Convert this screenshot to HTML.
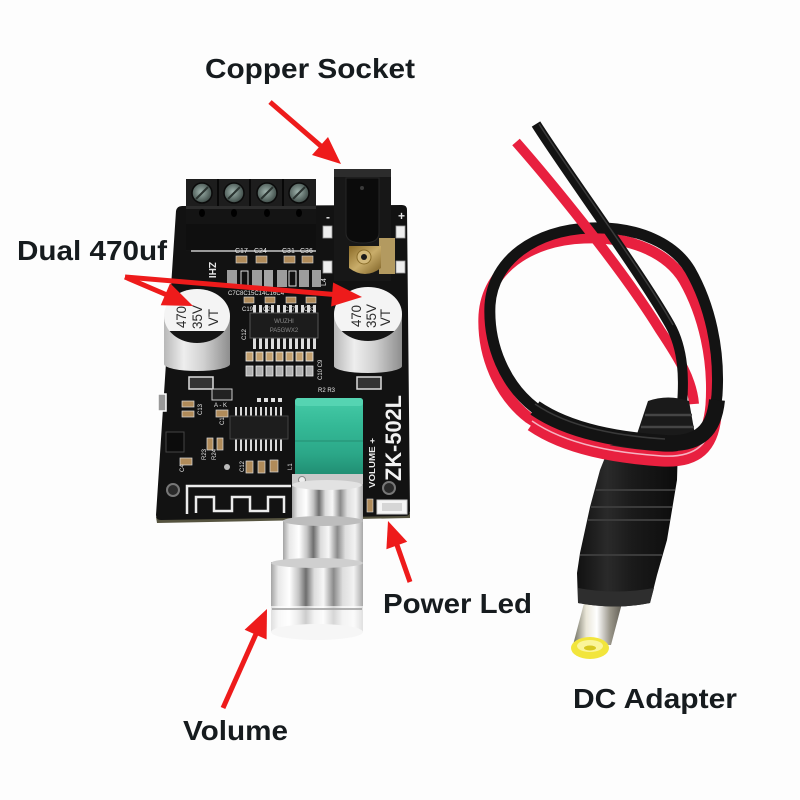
<!DOCTYPE html>
<html><head><meta charset="utf-8">
<style>
html,body{margin:0;padding:0;background:#fff;}
svg{display:block;}
.lbl{font-family:"Liberation Sans",Arial,sans-serif;font-weight:bold;font-size:28px;fill:#161b1e;}
.s{font-family:"Liberation Sans",sans-serif;fill:#e6e6e6;}
.cap{font-family:"Liberation Sans",sans-serif;fill:#2a2a2a;font-size:14px;}
</style></head><body>
<svg width="800" height="800" viewBox="0 0 800 800" xmlns="http://www.w3.org/2000/svg">
<defs>
 <linearGradient id="knob" x1="0" y1="0" x2="1" y2="0">
  <stop offset="0" stop-color="#a4a4a4"/><stop offset="0.08" stop-color="#e8e8e8"/>
  <stop offset="0.2" stop-color="#ffffff"/><stop offset="0.3" stop-color="#c4c4c4"/>
  <stop offset="0.38" stop-color="#6e6e6e"/><stop offset="0.47" stop-color="#dcdcdc"/>
  <stop offset="0.57" stop-color="#f7f7f7"/><stop offset="0.68" stop-color="#8a8a8a"/>
  <stop offset="0.78" stop-color="#dedede"/><stop offset="0.9" stop-color="#f2f2f2"/>
  <stop offset="1" stop-color="#a8a8a8"/>
 </linearGradient>
 <linearGradient id="capSide" x1="0" y1="0" x2="1" y2="0">
  <stop offset="0" stop-color="#b8b8b8"/><stop offset="0.3" stop-color="#eeeeee"/>
  <stop offset="0.6" stop-color="#d0d0d0"/><stop offset="1" stop-color="#8e8e8e"/>
 </linearGradient>
 <linearGradient id="green" x1="0" y1="0" x2="0" y2="1">
  <stop offset="0" stop-color="#46cba8"/><stop offset="0.35" stop-color="#34b996"/>
  <stop offset="0.7" stop-color="#2ba788"/><stop offset="1" stop-color="#1f8a6f"/>
 </linearGradient>
 <linearGradient id="barrel" x1="0" y1="0" x2="1" y2="0">
  <stop offset="0" stop-color="#6b6b5e"/><stop offset="0.25" stop-color="#e9e6d8"/>
  <stop offset="0.45" stop-color="#ffffff"/><stop offset="0.7" stop-color="#9a968a"/>
  <stop offset="1" stop-color="#4e4b42"/>
 </linearGradient>
 <linearGradient id="plug" x1="0" y1="0" x2="1" y2="0">
  <stop offset="0" stop-color="#111"/><stop offset="0.3" stop-color="#2a2a2a"/>
  <stop offset="0.55" stop-color="#1a1a1a"/><stop offset="1" stop-color="#0c0c0c"/>
 </linearGradient>
 <radialGradient id="screw" cx="0.45" cy="0.45" r="0.6">
  <stop offset="0" stop-color="#9fb3ad"/><stop offset="1" stop-color="#36433f"/>
 </radialGradient>
 <linearGradient id="brass" x1="0" y1="0" x2="1" y2="1">
  <stop offset="0" stop-color="#8a6a26"/><stop offset="0.5" stop-color="#c9ad6a"/><stop offset="1" stop-color="#7d6126"/>
 </linearGradient>
 <clipPath id="cL"><ellipse cx="197" cy="316" rx="33" ry="27"/></clipPath>
 <clipPath id="cR"><ellipse cx="368" cy="314" rx="34" ry="27"/></clipPath>
</defs>

<rect width="800" height="800" fill="#fdfdfd"/>

<!-- ============ PCB ============ -->
<path d="M156,517 L410,513 L410,518 L157,523 Z" fill="#55533f"/>
<path d="M182,206 L402,205 Q407,205 407,210 L410,511 Q410,516 405,516 L161,520 Q156,520 156,515 L176,211 Q177,206 182,206 Z" fill="#121212"/>

<!-- terminal block -->
<rect x="186" y="179" width="130" height="72" fill="#141414"/>
<rect x="186" y="179" width="130" height="27" fill="#1d1d1d"/>
<g stroke="#080808" stroke-width="2"><line x1="218" y1="179" x2="218" y2="206"/><line x1="250" y1="179" x2="250" y2="206"/><line x1="283" y1="179" x2="283" y2="206"/></g>
<g stroke="#0a0a0a" stroke-width="1.5" fill="url(#screw)">
 <circle cx="202" cy="193" r="10"/><circle cx="234" cy="193" r="10"/><circle cx="267" cy="193" r="10"/><circle cx="299" cy="193" r="10"/>
</g>
<g stroke="#2a3330" stroke-width="2"><line x1="196" y1="199" x2="208" y2="187"/><line x1="228" y1="199" x2="240" y2="187"/><line x1="261" y1="199" x2="273" y2="187"/><line x1="293" y1="199" x2="305" y2="187"/></g>
<rect x="186" y="206" width="130" height="3" fill="#2c2c2c"/>
<g fill="#000"><ellipse cx="202" cy="213" rx="3" ry="4"/><ellipse cx="234" cy="213" rx="3" ry="4"/><ellipse cx="267" cy="213" rx="3" ry="4"/><ellipse cx="299" cy="213" rx="3" ry="4"/></g>
<rect x="186" y="224" width="130" height="26" fill="#0f0f0f"/>
<line x1="191" y1="251" x2="316" y2="251" stroke="#c8c8c8" stroke-width="1.5"/>

<!-- copper socket -->
<g fill="#eeeeee" stroke="#999" stroke-width="0.8">
 <rect x="323" y="226" width="9" height="12"/><rect x="323" y="261" width="9" height="12"/>
 <rect x="396" y="226" width="9" height="12"/><rect x="396" y="261" width="9" height="12"/>
</g>
<rect x="334" y="169" width="57" height="112" fill="#171717"/>
<rect x="334" y="169" width="57" height="8" fill="#2c2c2c"/>
<path d="M346,178 h33 v55 q0,10 -16,10 q-17,0 -17,-10 Z" fill="#0b0b0b" stroke="#262626"/>
<circle cx="362" cy="188" r="2" fill="#3a3a3a"/>
<rect x="379" y="238" width="16" height="36" fill="#b39a60"/>
<path d="M349,246 h32 v22 q-16,12 -32,0 Z" fill="url(#brass)"/>
<circle cx="364" cy="257" r="7" fill="#d3b97a" stroke="#8a6d2a"/>
<circle cx="364" cy="257" r="3" fill="#1a1a1a"/>
<text class="s" x="326" y="221" font-size="12" font-weight="bold">-</text>
<text class="s" x="398" y="220" font-size="12" font-weight="bold">+</text>
<text class="s" transform="translate(326,286) rotate(-90)" font-size="7">L4</text>

<!-- silk/components upper -->
<text class="s" transform="translate(209,262) rotate(90)" font-size="10" font-weight="bold">ZHI</text>
<g fill="#b08b5a" stroke="#ddd" stroke-width="0.6">
 <rect x="236" y="256" width="11" height="7"/><rect x="256" y="256" width="11" height="7"/>
 <rect x="284" y="256" width="11" height="7"/><rect x="302" y="256" width="11" height="7"/>
</g>
<g class="s" font-size="7"><text x="235" y="253">C17</text><text x="254" y="253">C24</text><text x="282" y="253">C31</text><text x="300" y="253">C36</text></g>
<rect x="227" y="270" width="10" height="17" fill="#9d9d9d"/>
<rect x="241" y="271" width="7" height="15" fill="#111" stroke="#ddd"/>
<rect x="252" y="270" width="10" height="17" fill="#9d9d9d"/>
<rect x="264" y="270" width="9" height="17" fill="#a5a5a5"/>
<rect x="277" y="270" width="10" height="17" fill="#9d9d9d"/>
<rect x="289" y="271" width="7" height="15" fill="#111" stroke="#ddd"/>
<rect x="299" y="270" width="10" height="17" fill="#9d9d9d"/>
<rect x="312" y="270" width="9" height="17" fill="#9d9d9d"/>
<text class="s" x="228" y="295" font-size="6">C7C8C15C14C16C4</text>
<g fill="#b08b5a" stroke="#ddd" stroke-width="0.6">
 <rect x="244" y="297" width="10" height="6"/><rect x="265" y="297" width="10" height="6"/>
 <rect x="286" y="297" width="10" height="6"/><rect x="306" y="297" width="10" height="6"/>
</g>
<g class="s" font-size="6"><text x="242" y="311">C19</text><text x="263" y="311">C25</text><text x="284" y="311">C27</text><text x="304" y="311">C33</text></g>
<!-- main chip -->
<g fill="#dcdcdc">
 <rect x="253" y="305" width="3" height="9"/><rect x="259" y="305" width="3" height="9"/><rect x="265" y="305" width="3" height="9"/><rect x="271" y="305" width="3" height="9"/><rect x="277" y="305" width="3" height="9"/><rect x="283" y="305" width="3" height="9"/><rect x="289" y="305" width="3" height="9"/><rect x="295" y="305" width="3" height="9"/><rect x="301" y="305" width="3" height="9"/><rect x="307" y="305" width="3" height="9"/><rect x="313" y="305" width="3" height="9"/>
 <rect x="253" y="337" width="3" height="12"/><rect x="259" y="337" width="3" height="12"/><rect x="265" y="337" width="3" height="12"/><rect x="271" y="337" width="3" height="12"/><rect x="277" y="337" width="3" height="12"/><rect x="283" y="337" width="3" height="12"/><rect x="289" y="337" width="3" height="12"/><rect x="295" y="337" width="3" height="12"/><rect x="301" y="337" width="3" height="12"/><rect x="307" y="337" width="3" height="12"/><rect x="313" y="337" width="3" height="12"/>
</g>
<rect x="250" y="313" width="68" height="25" fill="#1c1c1c" stroke="#555"/>
<text x="284" y="323" font-family="Liberation Sans,sans-serif" font-size="6" fill="#8a8a8a" text-anchor="middle">WUZHI</text>
<text x="284" y="332" font-family="Liberation Sans,sans-serif" font-size="6" fill="#8a8a8a" text-anchor="middle">PA5GWX2</text>
<text class="s" transform="translate(246,340) rotate(-90)" font-size="6">C12</text>
<g fill="#c2a070" stroke="#eee" stroke-width="0.8">
 <rect x="246" y="352" width="7" height="9"/><rect x="256" y="352" width="7" height="9"/><rect x="266" y="352" width="7" height="9"/><rect x="276" y="352" width="7" height="9"/><rect x="286" y="352" width="7" height="9"/><rect x="296" y="352" width="7" height="9"/><rect x="306" y="352" width="7" height="9"/>
</g>
<g fill="#b0b0b0" stroke="#eee" stroke-width="0.8">
 <rect x="246" y="366" width="7" height="10"/><rect x="256" y="366" width="7" height="10"/><rect x="266" y="366" width="7" height="10"/><rect x="276" y="366" width="7" height="10"/><rect x="286" y="366" width="7" height="10"/><rect x="296" y="366" width="7" height="10"/><rect x="306" y="366" width="7" height="10"/>
</g>
<text class="s" transform="translate(322,380) rotate(-90)" font-size="6">C10 C9</text>
<text class="s" x="318" y="392" font-size="6">R2  R3</text>

<!-- capacitor pads -->
<rect x="189" y="377" width="24" height="12" fill="#333" stroke="#ddd" stroke-width="1.5"/>
<rect x="357" y="377" width="24" height="12" fill="#333" stroke="#ddd" stroke-width="1.5"/>

<!-- left capacitor -->
<rect x="164" y="316" width="66" height="48" fill="url(#capSide)"/>
<ellipse cx="197" cy="364" rx="33" ry="7" fill="url(#capSide)"/>
<ellipse cx="197" cy="316" rx="33" ry="27" fill="#f4f4f4"/>
<rect x="164" y="331" width="66" height="20" fill="#151515" clip-path="url(#cL)"/>
<text class="cap" transform="translate(186,328) rotate(-90)" textLength="22" lengthAdjust="spacingAndGlyphs">470</text>
<text class="cap" transform="translate(202,329) rotate(-90)" textLength="24" lengthAdjust="spacingAndGlyphs">35V</text>
<text class="cap" transform="translate(218,326) rotate(-90)" textLength="17" lengthAdjust="spacingAndGlyphs">VT</text>

<!-- right capacitor -->
<rect x="334" y="314" width="68" height="52" fill="url(#capSide)"/>
<ellipse cx="368" cy="366" rx="34" ry="7" fill="url(#capSide)"/>
<ellipse cx="368" cy="314" rx="34" ry="27" fill="#f4f4f4"/>
<rect x="334" y="331" width="68" height="22" fill="#151515" clip-path="url(#cR)"/>
<text class="cap" transform="translate(361,327) rotate(-90)" textLength="22" lengthAdjust="spacingAndGlyphs">470</text>
<text class="cap" transform="translate(376,328) rotate(-90)" textLength="24" lengthAdjust="spacingAndGlyphs">35V</text>
<text class="cap" transform="translate(390,326) rotate(-90)" textLength="17" lengthAdjust="spacingAndGlyphs">VT</text>

<!-- lower board components -->
<rect x="158" y="394" width="8" height="17" fill="#999" stroke="#fff" stroke-width="1.5"/>
<g fill="#b08b5a" stroke="#ddd" stroke-width="0.7">
 <rect x="182" y="401" width="12" height="6"/><rect x="182" y="411" width="12" height="6"/><rect x="180" y="458" width="12" height="7"/>
 <rect x="207" y="438" width="6" height="12"/><rect x="217" y="438" width="6" height="12"/>
 <rect x="216" y="410" width="12" height="7"/>
 <rect x="246" y="461" width="7" height="12"/><rect x="258" y="461" width="7" height="12"/><rect x="270" y="460" width="8" height="12"/>
</g>
<rect x="166" y="432" width="18" height="20" fill="#0c0c0c" stroke="#444"/>
<rect x="212" y="389" width="20" height="11" fill="#222" stroke="#ccc"/>
<g class="s" font-size="6">
 <text transform="translate(202,415) rotate(-90)">C13</text><text x="214" y="407">A - K</text>
 <text transform="translate(224,425) rotate(-90)">C1</text><text transform="translate(206,460) rotate(-90)">R23</text>
 <text transform="translate(216,460) rotate(-90)">R24</text><text transform="translate(244,472) rotate(-90)">C12</text>
 <text transform="translate(184,472) rotate(-90)">C4</text><text transform="translate(292,470) rotate(-90)">L1</text>
</g>
<g fill="#e0e0e0"><rect x="257" y="398" width="4" height="4"/><rect x="264" y="398" width="4" height="4"/><rect x="271" y="398" width="4" height="4"/><rect x="278" y="398" width="4" height="4"/></g>
<g fill="#d8d8d8">
 <rect x="235" y="407" width="2" height="9"/><rect x="240" y="407" width="2" height="9"/><rect x="245" y="407" width="2" height="9"/><rect x="250" y="407" width="2" height="9"/><rect x="255" y="407" width="2" height="9"/><rect x="260" y="407" width="2" height="9"/><rect x="265" y="407" width="2" height="9"/><rect x="270" y="407" width="2" height="9"/><rect x="275" y="407" width="2" height="9"/><rect x="280" y="407" width="2" height="9"/>
 <rect x="235" y="438" width="2" height="13"/><rect x="240" y="438" width="2" height="13"/><rect x="245" y="438" width="2" height="13"/><rect x="250" y="438" width="2" height="13"/><rect x="255" y="438" width="2" height="13"/><rect x="260" y="438" width="2" height="13"/><rect x="265" y="438" width="2" height="13"/><rect x="270" y="438" width="2" height="13"/><rect x="275" y="438" width="2" height="13"/><rect x="280" y="438" width="2" height="13"/>
</g>
<rect x="230" y="416" width="58" height="23" fill="#1d1d1d" stroke="#444"/>
<circle cx="227" cy="467" r="3" fill="#bbb"/>

<!-- antenna meander -->
<path d="M187,514 V486 H291 M196,513 V497 H214 V511 H232 V497 H250 V511 H268 V497 H284 V513" fill="none" stroke="#ececec" stroke-width="2.5"/>
<!-- mounting holes -->
<circle cx="173" cy="490" r="6" fill="#2a2a2a" stroke="#777" stroke-width="2"/>
<circle cx="389" cy="488" r="6" fill="#2a2a2a" stroke="#777" stroke-width="2"/>

<!-- ZK-502L / VOLUME -->
<text transform="translate(401,481) rotate(-90)" font-family="Liberation Sans,sans-serif" font-weight="bold" font-size="22" fill="#f2f2f2" textLength="86" lengthAdjust="spacingAndGlyphs">ZK-502L</text>
<text transform="translate(375,488) rotate(-90)" font-family="Liberation Sans,sans-serif" font-weight="bold" font-size="8.5" fill="#eeeeee" textLength="50" lengthAdjust="spacingAndGlyphs">VOLUME +</text>
<!-- power LED -->
<rect x="367" y="499" width="6" height="13" fill="#b08b5a" stroke="#ddd" stroke-width="0.6"/>
<rect x="377" y="500" width="30" height="14" fill="#f5f5f5" stroke="#d0d0d0"/>
<rect x="382" y="503" width="20" height="8" fill="#d6d6d6"/>

<!-- potentiometer -->
<rect x="295" y="398" width="68" height="80" rx="3" fill="url(#green)"/>
<rect x="295" y="398" width="68" height="8" rx="3" fill="#55d4b2"/>
<rect x="295" y="440" width="68" height="2" fill="#2a9e80"/>
<rect x="292" y="474" width="71" height="12" fill="#c9c9c9"/>
<circle cx="302" cy="480" r="3.5" fill="#eee" stroke="#888"/>

<!-- knob -->
<rect x="292" y="484" width="71" height="38" fill="url(#knob)"/>
<ellipse cx="327" cy="485" rx="35" ry="5" fill="#e2e2e2"/>
<rect x="283" y="520" width="80" height="45" fill="url(#knob)"/>
<ellipse cx="323" cy="521" rx="40" ry="5" fill="#bdbdbd"/>
<rect x="271" y="562" width="92" height="70" fill="url(#knob)"/>
<ellipse cx="317" cy="563" rx="46" ry="5" fill="#cfcfcf"/>
<rect x="271" y="606" width="92" height="26" fill="#ffffff" opacity="0.65"/>
<line x1="272" y1="609" x2="362" y2="609" stroke="#9a9a9a" stroke-width="1.5"/>
<ellipse cx="317" cy="632" rx="46" ry="8" fill="#f6f6f6"/>

<!-- ============ DC cable ============ -->
<!-- loop (thin part) -->
<path d="M590,228 C640,226 675,245 690,270 C710,305 720,350 717,395 C714,430 700,445 665,443 C620,440 570,432 535,408 C505,385 488,345 490,305 C493,260 535,230 590,228 Z" fill="none" stroke="#e8203f" stroke-width="11" transform="translate(-6,10)"/>
<path d="M590,228 C640,226 675,245 690,270 C710,305 720,350 717,395 C714,430 700,445 665,443 C620,440 570,432 535,408 C505,385 488,345 490,305 C493,260 535,230 590,228 Z" fill="none" stroke="#131313" stroke-width="11"/>
<!-- tails -->
<path d="M516,142 C545,175 620,265 660,330 C680,360 692,380 694,404" fill="none" stroke="#e8203f" stroke-width="10"/>
<path d="M536,124 C565,170 640,272 670,325 C684,350 684,380 682,405" fill="none" stroke="#131313" stroke-width="10"/>
<path d="M539,124 C568,170 643,272 673,325" fill="none" stroke="#3a3a3a" stroke-width="1.5"/>

<!-- strain relief -->
<path d="M648,401 Q668,394 689,401 L697,446 L633,446 Z" fill="#1a1a1a"/>
<g stroke="#454545" stroke-width="2.5"><line x1="645" y1="415" x2="692" y2="415"/><line x1="641" y1="427" x2="694" y2="427"/></g>

<!-- barrel + tip -->
<path d="M588,588 L626,588 L611,645 L573,645 Z" fill="url(#barrel)"/>
<ellipse cx="590" cy="648" rx="19" ry="11" fill="#f2e53c"/>
<ellipse cx="590" cy="646" rx="13" ry="6" fill="#fbf59a"/>
<ellipse cx="590" cy="648" rx="6" ry="2.5" fill="#d8c820"/>

<!-- plug body -->
<path d="M610,445 L678,445 L677,480 L667,540 L657,575 L650,603 Q615,610 578,603 L577,573 L580,553 L590,507 L600,470 Z" fill="url(#plug)"/>
<g stroke="#3b3b3b" stroke-width="2" fill="none">
 <path d="M596,490 L675,490"/><path d="M591,507 L672,507"/><path d="M588,520 L670,520"/><path d="M580,555 L662,555"/>
</g>
<path d="M578,588 Q615,595 654,588 L650,603 Q615,610 578,603 Z" fill="#2e2e2e"/>

<!-- loop bottom band (thick, front) -->
<path d="M535,408 C570,432 620,440 665,443 C700,445 714,430 717,400" fill="none" stroke="#e8203f" stroke-width="15" transform="translate(-3,16)"/>
<path d="M535,408 C570,432 620,440 665,443 C700,445 714,430 717,400" fill="none" stroke="#f6b3c2" stroke-width="1.5" transform="translate(-3,13)"/>
<path d="M535,408 C570,432 620,440 665,443 C700,445 714,430 717,400" fill="none" stroke="#131313" stroke-width="16"/>
<path d="M535,404 C570,428 620,436 665,439" fill="none" stroke="#3a3a3a" stroke-width="1.5"/>

<!-- ============ arrows ============ -->
<g stroke="#ee1b1b" stroke-width="5" fill="none">
 <line x1="270" y1="102" x2="322" y2="147"/>
 <line x1="125" y1="277" x2="167" y2="295"/>
 <line x1="125" y1="277" x2="334" y2="294.5"/>
 <line x1="410" y1="582" x2="397" y2="545"/>
 <line x1="223" y1="708" x2="256" y2="634"/>
</g>
<g fill="#ee1b1b">
 <polygon points="341,164 312,155 328,137"/>
 <polygon points="193,306 160.7,305.2 170.1,283.2"/>
 <polygon points="362,297 331.1,306.5 333.1,282.5"/>
 <polygon points="388,521 407.2,541.8 386.4,549.2"/>
 <polygon points="267,609 266.6,639.5 244.6,629.7"/>
</g>

<!-- ============ labels ============ -->
<text class="lbl" x="205" y="78" textLength="210" lengthAdjust="spacingAndGlyphs">Copper Socket</text>
<text class="lbl" x="17" y="260" textLength="150" lengthAdjust="spacingAndGlyphs">Dual 470uf</text>
<text class="lbl" x="383" y="613" textLength="149" lengthAdjust="spacingAndGlyphs">Power Led</text>
<text class="lbl" x="573" y="708" textLength="164" lengthAdjust="spacingAndGlyphs">DC Adapter</text>
<text class="lbl" x="183" y="740" textLength="105" lengthAdjust="spacingAndGlyphs">Volume</text>
</svg>
</body></html>
